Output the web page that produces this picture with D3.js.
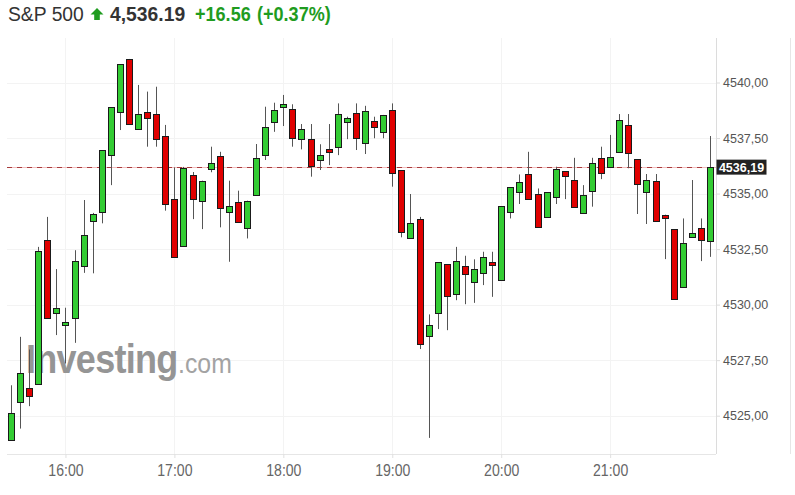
<!DOCTYPE html>
<html><head><meta charset="utf-8">
<script src="https://cdn.jsdelivr.net/npm/d3@7"></script>
<style>body{margin:0;background:#fff}svg{display:block}</style>
</head><body><svg id="c" width="795" height="495"></svg>
<script>
const times=["15:30","15:35","15:40","15:45","15:50","15:55","16:00","16:05","16:10","16:15","16:20","16:25",
"16:30","16:35","16:40","16:45","16:50","16:55","17:00","17:05","17:10","17:15","17:20","17:25",
"17:30","17:35","17:40","17:45","17:50","17:55","18:00","18:05","18:10","18:15","18:20","18:25",
"18:30","18:35","18:40","18:45","18:50","18:55","19:00","19:05","19:10","19:15","19:20","19:25",
"19:30","19:35","19:40","19:45","19:50","19:55","20:00","20:05","20:10","20:15","20:20","20:25",
"20:30","20:35","20:40","20:45","20:50","20:55","21:00","21:05","21:10","21:15","21:20","21:25",
"21:30","21:35","21:40","21:45","21:50","21:55"];
const opens=[4523.90,4525.58,4526.25,4526.41,4532.91,4529.63,4529.05,4529.41,4531.73,4533.73,4534.18,4536.72,
4538.66,4541.06,4537.91,4538.66,4538.58,4537.59,4534.75,4532.65,4535.83,4534.68,4536.10,4536.69,
4534.18,4534.60,4533.46,4534.93,4536.73,4538.23,4538.91,4538.81,4537.44,4537.47,4536.48,4537.02,
4537.11,4538.23,4538.61,4537.29,4538.27,4537.78,4538.76,4536.06,4532.98,4533.85,4528.59,4529.60,
4531.81,4530.46,4531.73,4531.03,4531.43,4531.90,4531.10,4534.14,4535.04,4535.88,4534.98,4533.91,
4534.82,4536.01,4535.61,4534.11,4535.13,4536.61,4536.16,4536.88,4538.09,4536.55,4535.08,4535.56,
4534.05,4533.40,4530.76,4533.01,4533.46,4532.87];
const highs=[4526.37,4528.55,4527.98,4532.60,4533.95,4531.60,4529.86,4532.45,4534.71,4534.13,4536.96,4538.88,
4540.83,4541.06,4539.89,4539.59,4539.81,4538.09,4536.18,4536.20,4535.97,4535.58,4537.11,4536.88,
4535.58,4535.13,4534.68,4537.23,4538.91,4539.09,4539.44,4539.02,4538.13,4538.13,4537.22,4538.13,
4539.06,4538.46,4539.06,4538.95,4538.46,4538.54,4539.06,4536.06,4534.98,4533.95,4529.56,4531.90,
4531.81,4532.60,4532.20,4532.04,4532.38,4532.38,4534.44,4535.28,4535.86,4536.88,4535.23,4535.05,
4536.21,4536.01,4536.61,4535.38,4536.61,4537.11,4537.64,4538.58,4538.58,4536.55,4535.88,4535.88,
4534.05,4533.40,4533.88,4535.61,4533.88,4537.59];
const lows=[4523.90,4524.42,4525.43,4526.41,4529.41,4528.63,4527.35,4528.28,4531.43,4531.41,4533.66,4535.38,
4537.86,4538.13,4537.91,4537.11,4537.11,4534.23,4532.15,4532.65,4533.85,4533.40,4535.96,4533.48,
4531.93,4533.68,4532.98,4534.93,4536.51,4537.78,4538.04,4537.11,4536.99,4535.76,4536.06,4536.28,
4536.73,4537.45,4536.96,4536.78,4537.49,4537.49,4535.31,4533.03,4532.98,4528.00,4524.00,4528.90,
4528.85,4530.20,4530.02,4530.08,4530.88,4530.35,4531.10,4533.88,4534.53,4534.74,4533.50,4533.91,
4534.53,4534.75,4534.41,4534.11,4534.41,4535.65,4536.16,4536.88,4536.14,4534.08,4533.63,4533.77,
4532.05,4530.25,4530.76,4533.01,4531.96,4532.15];
const closes=[4525.13,4526.90,4525.89,4532.41,4529.41,4529.87,4529.20,4531.96,4533.13,4534.06,4536.96,4538.88,
4540.83,4538.13,4538.58,4538.41,4537.44,4534.51,4532.15,4536.14,4534.75,4535.58,4536.39,4534.36,
4534.44,4533.68,4534.68,4536.61,4537.98,4538.76,4539.03,4537.51,4537.91,4536.25,4536.72,4536.90,
4538.58,4538.41,4537.49,4538.72,4538.01,4538.54,4535.94,4533.28,4533.66,4528.21,4529.08,4531.90,
4530.35,4531.96,4531.36,4531.60,4532.13,4531.75,4534.44,4535.28,4535.50,4534.74,4533.50,4535.05,
4536.10,4535.80,4534.41,4534.93,4536.39,4535.94,4536.63,4538.31,4536.84,4535.41,4535.61,4533.77,
4533.91,4530.25,4532.76,4533.21,4532.94,4536.19];
const priceTicks=[4525,4527.5,4530,4532.5,4535,4537.5,4540];
const hourTicks=["16:00","17:00","18:00","19:00","20:00","21:00"];
const lastPrice=4536.19;
const titleName="S&P 500", titlePrice="4,536.19", titleChange="+16.56", titlePct="(+0.37%)";

const svg=d3.select("#c");
const L=7,R=716,T=38,B=454;
const parse=d3.timeParse("%H:%M");
const x=d3.scaleTime().domain([parse(times[0]),parse(times[times.length-1])]).range([11,710]);
const y=d3.scaleLinear().domain([4525,4540]).range([415.7,82.5]);
const fmt=v=>d3.format(".2f")(v).replace(".",",");
const FONT="'Liberation Sans', Arial, sans-serif";
const GREEN="#1f9c1f";

svg.append("rect").attr("width",795).attr("height",495).attr("fill","#fff");

// title
const t=svg.append("g").style("font-family",FONT).style("font-size","21px");
t.append("text").attr("transform","translate(8,21) scale(0.92,1)").attr("fill","#333").text(titleName);
t.append("path").attr("d","M97,8 L103.5,14.5 L99.8,14.5 L99.8,20 L94.2,20 L94.2,14.5 L90.5,14.5 Z").attr("fill",GREEN);
t.append("text").attr("transform","translate(110,21) scale(0.92,1)").attr("fill","#333").attr("font-weight","bold").text(titlePrice);
t.append("text").attr("transform","translate(195,21) scale(0.86,1)").attr("fill",GREEN).attr("font-weight","bold").text(titleChange);
t.append("text").attr("transform","translate(257,21) scale(0.86,1)").attr("fill",GREEN).attr("font-weight","bold").text(titlePct);

// grid
svg.append("g").selectAll("line").data(priceTicks).join("line")
  .attr("x1",L).attr("x2",R).attr("y1",d=>Math.round(y(d))+0.5).attr("y2",d=>Math.round(y(d))+0.5)
  .attr("stroke","#f3f3f3");
svg.append("g").selectAll("line").data(hourTicks).join("line")
  .attr("x1",d=>Math.round(x(parse(d)))+0.5).attr("x2",d=>Math.round(x(parse(d)))+0.5).attr("y1",T).attr("y2",B)
  .attr("stroke","#f3f3f3");

// watermark
const wm=svg.append("g").style("font-family",FONT);
wm.append("text").attr("transform","translate(26,373) scale(0.9,1)").attr("font-size","40px").attr("font-weight","bold")
  .attr("fill","#959595").attr("letter-spacing","-0.8px").text("Investing");
wm.append("text").attr("transform","translate(178,373) scale(0.92,1)").attr("font-size","27px")
  .attr("fill","#a3a3a3").text(".com");

// borders
svg.append("line").attr("x1",L).attr("x2",R).attr("y1",B+0.5).attr("y2",B+0.5).attr("stroke","#e6e6e6");
svg.append("line").attr("x1",R+0.5).attr("x2",R+0.5).attr("y1",T).attr("y2",B).attr("stroke","#dcdcdc");
svg.append("line").attr("x1",790.5).attr("x2",790.5).attr("y1",T).attr("y2",B).attr("stroke","#e6e6e6");

// axes
const xa=svg.append("g").attr("transform",`translate(0,${B})`)
  .call(d3.axisBottom(x).tickValues(hourTicks.map(parse)).tickFormat(d3.timeFormat("%H:%M")).tickSize(4).tickSizeOuter(0));
xa.select(".domain").remove();
xa.selectAll(".tick line").attr("stroke","#e0e0e0");
xa.selectAll(".tick text").attr("y",11).attr("fill","#666").style("font-family",FONT).style("font-size","16px")
  .attr("transform","scale(0.88,1)");

const ya=svg.append("g").attr("transform",`translate(${R},0)`)
  .call(d3.axisRight(y).tickValues(priceTicks).tickFormat(fmt).tickSize(4).tickSizeOuter(0));
ya.select(".domain").remove();
ya.selectAll(".tick line").attr("stroke","#dcdcdc");
ya.selectAll(".tick text").attr("fill","#555").style("font-family",FONT).style("font-size","12.5px");

// last price line
const yl=Math.round(y(lastPrice))+0.5;
svg.append("line").attr("x1",L).attr("x2",R).attr("y1",yl).attr("y2",yl).attr("stroke","#f2bcbc");
svg.append("line").attr("x1",L).attr("x2",R).attr("y1",yl).attr("y2",yl).attr("stroke","#a83c3c").attr("stroke-dasharray","5,5");

// candles
const data=times.map((tm,i)=>({t:parse(tm),o:opens[i],h:highs[i],l:lows[i],c:closes[i]}));
const g=svg.append("g");
const cg=g.selectAll("g").data(data).join("g");
cg.append("line")
  .attr("x1",d=>Math.round(x(d.t))+0.5).attr("x2",d=>Math.round(x(d.t))+0.5)
  .attr("y1",d=>y(d.h)).attr("y2",d=>y(d.l)).attr("stroke","#555");
cg.append("rect")
  .attr("x",d=>Math.round(x(d.t))-2.5).attr("width",6)
  .attr("y",d=>Math.round(y(Math.max(d.o,d.c)))+0.5)
  .attr("height",d=>Math.max(Math.round(Math.abs(y(d.o)-y(d.c))),2))
  .attr("fill",d=>d.c>=d.o?"#33cc33":"#e00000")
  .attr("stroke","#1a1a1a").attr("stroke-width",1);

// last price label
svg.append("rect").attr("x",R+0.5).attr("y",y(lastPrice)-7.5).attr("width",50).attr("height",15).attr("fill","#222");
svg.append("text").attr("x",R+25.5).attr("y",y(lastPrice)).attr("dy","0.35em").attr("text-anchor","middle")
  .attr("fill","#fff").attr("font-weight","bold").style("font-family",FONT).style("font-size","12.5px").text(fmt(lastPrice));
</script></body></html>
